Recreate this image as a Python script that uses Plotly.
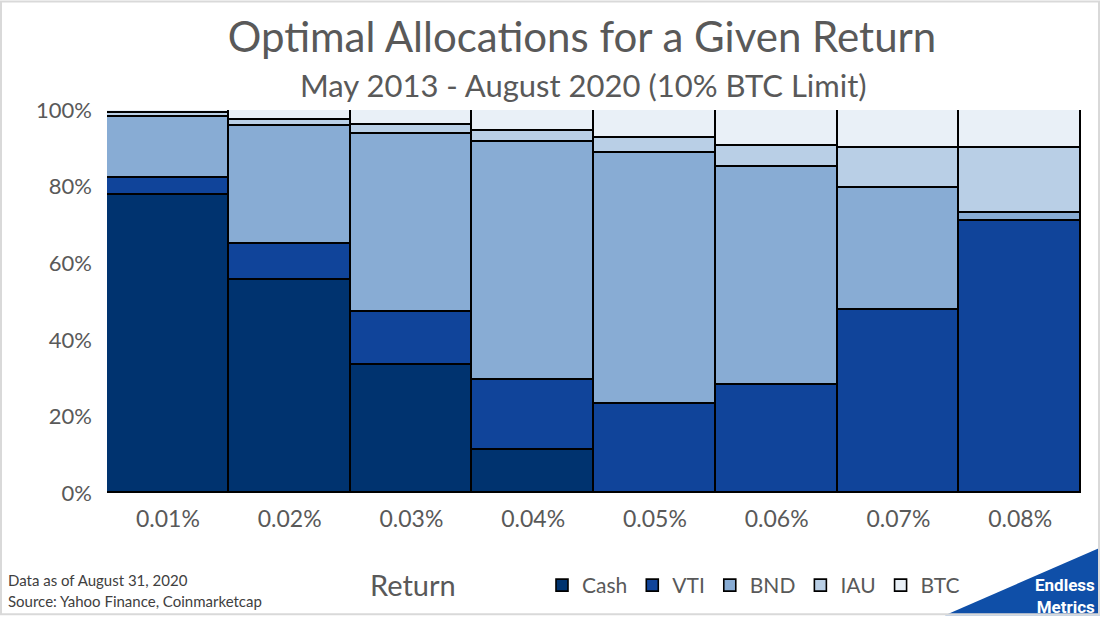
import plotly.graph_objects as go

# categories and allocations (fraction of portfolio)
returns = ["0.01%", "0.02%", "0.03%", "0.04%", "0.05%", "0.06%", "0.07%", "0.08%"]
cash = [0.778, 0.556, 0.335, 0.112, 0.0, 0.0, 0.0, 0.0]
vti = [0.045, 0.094, 0.138, 0.184, 0.233, 0.281, 0.477, 0.709]
bnd = [0.160, 0.307, 0.465, 0.621, 0.656, 0.571, 0.319, 0.023]
iau = [0.008, 0.016, 0.022, 0.028, 0.038, 0.053, 0.105, 0.169]
btc = [0.009, 0.027, 0.040, 0.055, 0.073, 0.095, 0.099, 0.099]

series = [
    ("Cash", cash, "#00336f"),
    ("VTI", vti, "#10449a"),
    ("BND", bnd, "#88acd4"),
    ("IAU", iau, "#b9cfe6"),
    ("BTC", btc, "#e9f0f7"),
]

FONT = "Lato, Open Sans, sans-serif"
GREY = "#595959"

fig = go.Figure()
for name, vals, color in series:
    fig.add_trace(go.Bar(
        x=returns, y=vals, name=name,
        marker=dict(color=color, line=dict(color="black", width=1.6)),
    ))

# plot area in pixels: l=107, r=19, t=110, b=123 -> 974 x 385
W, H = 1100, 618
L, R, T, B = 107, 19, 110, 123
pw, ph = W - L - R, H - T - B


def px(x):
    return (x - L) / pw


def py(y):
    return (H - B - y) / ph


fig.update_layout(
    width=W, height=H,
    barmode="stack", bargap=0,
    plot_bgcolor="white", paper_bgcolor="white",
    margin=dict(l=L, r=R, t=T, b=B),
    font=dict(family=FONT, color=GREY),
    title=dict(
        text="Optimal Allocations for a Given Return",
        xref="paper", x=px(582), xanchor="center",
        y=1 - 37 / H, yanchor="middle",
        font=dict(size=42, color=GREY, family=FONT),
    ),
    legend=dict(
        orientation="h", x=px(542), xanchor="left", y=py(588), yanchor="middle",
        font=dict(size=21, color=GREY), itemwidth=30, traceorder="normal",
        bgcolor="rgba(0,0,0,0)",
    ),
)

fig.update_yaxes(
    range=[0, 1], tickvals=[0, 0.2, 0.4, 0.6, 0.8, 1.0], tickformat=".0%",
    showgrid=False, zeroline=False, showline=False,
    tickfont=dict(size=22, color=GREY), ticks="", ticklabelstandoff=14,
)
fig.update_xaxes(
    showgrid=False, showline=False,
    tickfont=dict(size=23, color=GREY), ticks="", ticklabelstandoff=10,
)

# subtitle
fig.add_annotation(
    text="May 2013 - August 2020 (10% BTC Limit)",
    xref="paper", yref="paper", x=px(583), y=py(85),
    xanchor="center", yanchor="middle", showarrow=False,
    font=dict(size=31, color=GREY, family=FONT),
)

# axis title
fig.add_annotation(
    text="Return", xref="paper", yref="paper", x=px(413), y=py(587),
    xanchor="center", yanchor="middle", showarrow=False,
    font=dict(size=29, color=GREY, family=FONT),
)

# source notes
fig.add_annotation(
    text="Data as of August 31, 2020", xref="paper", yref="paper",
    x=px(6), y=py(582), xanchor="left", yanchor="middle", showarrow=False,
    font=dict(size=15, color="#404040", family=FONT),
)
fig.add_annotation(
    text="Source: Yahoo Finance, Coinmarketcap", xref="paper", yref="paper",
    x=px(6), y=py(604), xanchor="left", yanchor="middle", showarrow=False,
    font=dict(size=15, color="#404040", family=FONT),
)

# logo triangle + text
fig.add_shape(
    type="path", xref="paper", yref="paper",
    path=f"M {px(945)} {py(618)} L {px(1100)} {py(550)} L {px(1100)} {py(618)} Z",
    fillcolor="#0f4fa8", line=dict(width=0), layer="above",
)
fig.add_annotation(
    text="<b>Endless<br>Metrics</b>", xref="paper", yref="paper",
    x=px(1097), y=py(599), xanchor="right", yanchor="middle", showarrow=False,
    align="right", font=dict(size=17, color="white", family="Liberation Sans Narrow, Roboto, sans-serif"),
)

# light frame around the image
fig.add_shape(
    type="rect", xref="paper", yref="paper",
    x0=px(1), y0=py(617), x1=px(1099), y1=py(1),
    line=dict(color="#d9d9d9", width=2), layer="above",
)

fig.write_html("out.html", config={"displayModeBar": False},
               post_script="document.body.style.margin='0';")
